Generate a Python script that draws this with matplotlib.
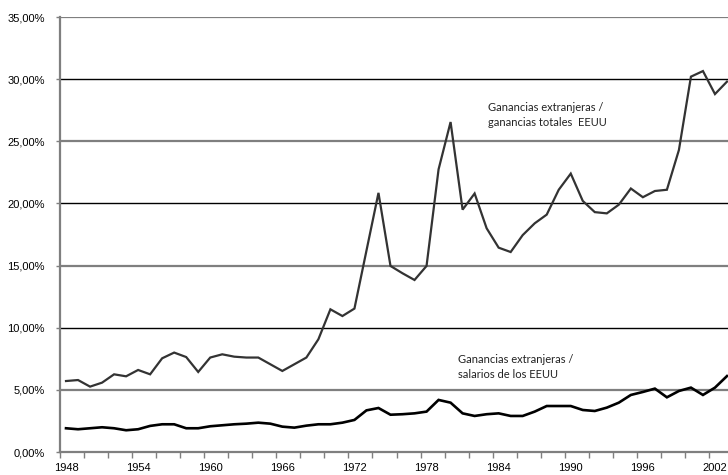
import numpy as np
import matplotlib
matplotlib.use("Agg")
import matplotlib.pyplot as plt
from matplotlib.ticker import FuncFormatter, MultipleLocator

# --- data (percent) ---
years = list(range(1948, 2004))

ganancias_totales = [5.71, 5.79, 5.26, 5.58, 6.25, 6.09, 6.60, 6.25, 7.54, 8.00,
                     7.64, 6.44, 7.60, 7.86, 7.67, 7.60, 7.60, 7.06, 6.52, 7.06,
                     7.60, 9.07, 11.48, 10.94, 11.54, 16.20, 20.85, 14.97, 14.38, 13.84,
                     14.97, 22.74, 26.55, 19.50, 20.80, 18.00, 16.44, 16.09, 17.45, 18.40,
                     19.10, 21.10, 22.40, 20.20, 19.30, 19.20, 19.90, 21.20, 20.50, 21.00,
                     21.10, 24.30, 30.20, 30.65, 28.80, 29.80]

salarios_eeuu = [1.91, 1.83, 1.91, 1.99, 1.91, 1.75, 1.83, 2.10, 2.23, 2.23,
                 1.91, 1.91, 2.07, 2.15, 2.23, 2.28, 2.36, 2.28, 2.04, 1.96,
                 2.12, 2.23, 2.23, 2.36, 2.58, 3.35, 3.54, 3.00, 3.04, 3.11,
                 3.25, 4.19, 3.97, 3.11, 2.90, 3.04, 3.11, 2.90, 2.90, 3.25,
                 3.70, 3.70, 3.70, 3.38, 3.30, 3.57, 3.97, 4.59, 4.83, 5.10,
                 4.40, 4.91, 5.18, 4.59, 5.18, 6.11]

label_years = [1948, 1954, 1960, 1966, 1972, 1978, 1984, 1990, 1996, 2002]

W, H = 728, 475
fig = plt.figure(figsize=(W / 100, H / 100), dpi=100)
ax = fig.add_axes([60 / W, 23 / H, 673 / W, 435 / H])

ax.plot(years, ganancias_totales, color="#333333", lw=1.6, solid_joinstyle="miter")
ax.plot(years, salarios_eeuu, color="#000000", lw=1.9, solid_joinstyle="miter")

ax.set_xlim(1947.5, 2003.5)
ax.set_ylim(0, 35)

# y axis
ax.set_yticks(np.arange(0, 36, 5))
ax.yaxis.set_major_formatter(FuncFormatter(lambda v, p: f"{v:.2f}%".replace(".", ",")))
ax.grid(axis="y", color="black", lw=1.0)
for v, gl in zip(ax.get_yticks(), ax.get_ygridlines()):
    if round(v) % 10 == 0:
        gl.set_color("#000000")
        gl.set_linewidth(1.0)
    else:
        gl.set_color("#7f7f7f")
        gl.set_linewidth(1.6)
ax.tick_params(axis="y", length=3, width=1, color="#7f7f7f", pad=8, labelsize=8)

# x axis: labels on years, tick marks between categories
ax.set_xticks(label_years)
ax.set_xticks(np.arange(1947.5, 2004, 2), minor=True)
ax.tick_params(axis="x", which="major", length=0, pad=8, labelsize=8)
ax.tick_params(axis="x", which="minor", length=4, width=1, color="#7f7f7f")

for s in ["top", "right"]:
    ax.spines[s].set_visible(False)
for s in ["left", "bottom"]:
    ax.spines[s].set_color("#7f7f7f")
    ax.spines[s].set_linewidth(1.6)

for lab in ax.get_xticklabels() + ax.get_yticklabels():
    lab.set_fontfamily("Liberation Sans")

ax.text(1983.1, 28.2, "Ganancias extranjeras /\nganancias totales  EEUU",
        fontsize=8, family="Lato", color="#222222", va="top", ha="left", linespacing=1.5)
ax.text(1980.6, 7.9, "Ganancias extranjeras /\nsalarios de los EEUU",
        fontsize=8, family="Lato", color="#222222", va="top", ha="left", linespacing=1.5)

fig.savefig("out.png", dpi=100)
